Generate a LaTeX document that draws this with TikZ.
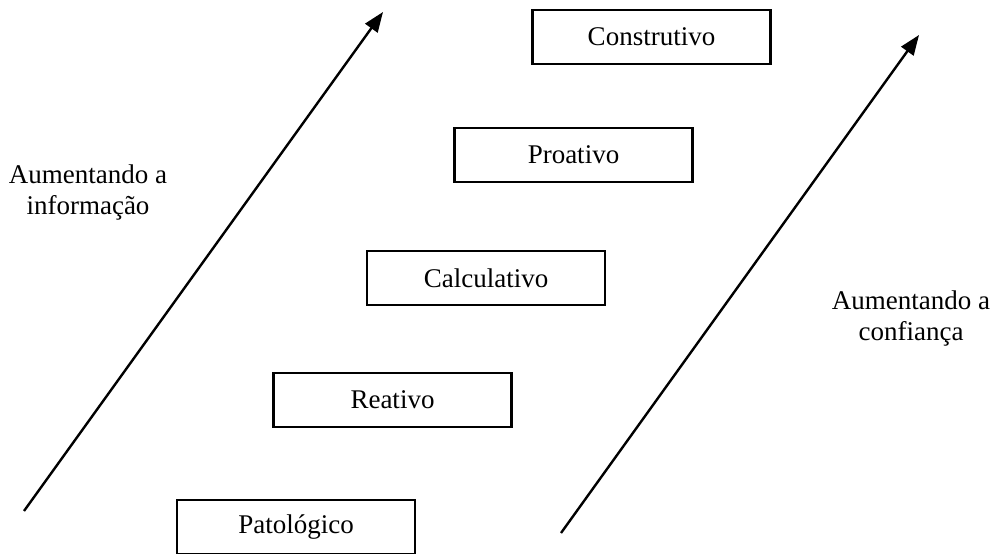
\documentclass[tikz,border=0pt]{standalone}
\usepackage{fontspec}
\setmainfont{Liberation Serif}
\usetikzlibrary{arrows.meta}
\begin{document}
\begin{tikzpicture}[x=0.5pt,y=-0.5pt,
  every node/.style={font=\fontsize{13.5pt}{15.5pt}\selectfont},
  levelbox/.style={draw, line width=1.2pt, inner sep=0pt, minimum width=119pt, minimum height=27pt},
  sidetext/.style={align=center, inner sep=0pt},
  growarrow/.style={line width=1.2pt, -{Triangle[length=10pt,width=7.5pt]}}]
\useasboundingbox (0,0) rectangle (992,553);
\node[levelbox] (cons) at (651.5,37) {Construtivo};
\node[levelbox] (pro) at (573.5,155) {Proativo};
\node[levelbox] (calc) at (486,278) {Calculativo};
\node[levelbox] (reat) at (392.5,400) {Reativo};
\node[levelbox] (pat) at (296,527) {Patológico};
\coordinate (ls) at (24,511);
\coordinate (le) at (383,12);
\coordinate (rs) at (561,533);
\coordinate (re) at (919,35);
\draw[growarrow] (ls) -- (le);
\draw[growarrow] (rs) -- (re);
\node[sidetext] (info) at (88,192) {Aumentando a\\informação};
\node[sidetext] (conf) at (911,318) {Aumentando a\\confiança};
\end{tikzpicture}
\end{document}
